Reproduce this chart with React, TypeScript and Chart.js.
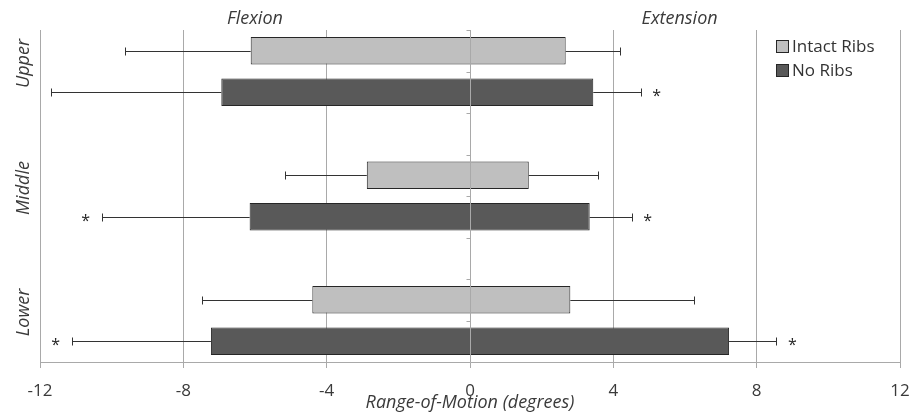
import React, { useEffect, useRef } from 'react';
import { Chart, registerables } from 'chart.js';

Chart.register(...registerables);

// ---------- data ----------
const regions = ['Upper', 'Middle', 'Lower'];
const seriesNames = ['Intact Ribs', 'No Ribs'];

// bar extents (degrees): flexion (negative) to extension (positive)
const intactLow = [-6.12, -2.88, -4.4];
const intactHigh = [2.67, 1.64, 2.8];
const intactErrLow = [-9.63, -5.16, -7.49];
const intactErrHigh = [4.2, 3.58, 6.25];

const noRibsLow = [-6.94, -6.15, -7.23];
const noRibsHigh = [3.44, 3.34, 7.23];
const noRibsErrLow = [-11.69, -10.28, -11.12];
const noRibsErrHigh = [4.76, 4.51, 8.55];

// significance markers (*) for No Ribs
const noRibsSigLow = [false, true, true];
const noRibsSigHigh = [true, true, true];

const xTicks = [-12, -8, -4, 0, 4, 8, 12];
const directionLabels = ['Flexion', 'Extension'];
const directionValues = [-6, 5.85];

const axisTitle = 'Range-of-Motion (degrees)';

// ---------- colours ----------
const intactColor = '#bfbfbf';
const noRibsColor = '#595959';
const barBorder = '#262626';
const gridColor = '#a9a9a9';
const textColor = '#3a3a3a';
const FONT = "'Open Sans', sans-serif";

// slots: Intact, No Ribs, (gap) for each region
const slotLabels: string[] = [];
const intactSlot: number[] = [];
const noRibsSlot: number[] = [];
regions.forEach((r, i) => {
  intactSlot.push(slotLabels.length);
  slotLabels.push(r + ' – ' + seriesNames[0]);
  noRibsSlot.push(slotLabels.length);
  slotLabels.push(r + ' – ' + seriesNames[1]);
  if (i < regions.length - 1) slotLabels.push('');
});

const intactData = slotLabels.map((_, s) => {
  const i = intactSlot.indexOf(s);
  return i >= 0 ? [intactLow[i], intactHigh[i]] : null;
});
const noRibsData = slotLabels.map((_, s) => {
  const i = noRibsSlot.indexOf(s);
  return i >= 0 ? [noRibsLow[i], noRibsHigh[i]] : null;
});

const overlayPlugin = {
  id: 'overlay',
  afterDatasetsDraw(chart: any) {
    const { ctx, chartArea, scales } = chart;
    const x = scales.x;
    const y = scales.y;
    ctx.save();

    // zero (category) axis line with small ticks, on top of bars
    const x0 = Math.round(x.getPixelForValue(0)) + 0.5;
    ctx.strokeStyle = gridColor;
    ctx.lineWidth = 1;
    ctx.beginPath();
    ctx.moveTo(x0, chartArea.top);
    ctx.lineTo(x0, chartArea.bottom);
    for (let k = 0; k <= slotLabels.length; k++) {
      const yb = Math.round(y.getPixelForValue(k - 0.5)) + 0.5;
      ctx.moveTo(x0 - 4, yb);
      ctx.lineTo(x0, yb);
    }
    ctx.stroke();

    // error bars
    ctx.strokeStyle = '#333333';
    ctx.lineWidth = 1;
    const drawErr = (slot: number, from: number, to: number) => {
      const yc = Math.round(y.getPixelForValue(slot)) + 0.5;
      const xa = x.getPixelForValue(from);
      const xb = Math.round(x.getPixelForValue(to)) + 0.5;
      ctx.beginPath();
      ctx.moveTo(xa, yc);
      ctx.lineTo(xb, yc);
      ctx.moveTo(xb, yc - 4);
      ctx.lineTo(xb, yc + 4);
      ctx.stroke();
    };
    regions.forEach((_, i) => {
      drawErr(intactSlot[i], intactLow[i], intactErrLow[i]);
      drawErr(intactSlot[i], intactHigh[i], intactErrHigh[i]);
      drawErr(noRibsSlot[i], noRibsLow[i], noRibsErrLow[i]);
      drawErr(noRibsSlot[i], noRibsHigh[i], noRibsErrHigh[i]);
    });

    // significance asterisks
    ctx.fillStyle = '#262626';
    ctx.font = `16px ${FONT}`;
    ctx.textAlign = 'center';
    ctx.textBaseline = 'alphabetic';
    regions.forEach((_, i) => {
      const yc = y.getPixelForValue(noRibsSlot[i]);
      if (noRibsSigLow[i]) ctx.fillText('*', x.getPixelForValue(noRibsErrLow[i]) - 16, yc + 9);
      if (noRibsSigHigh[i]) ctx.fillText('*', x.getPixelForValue(noRibsErrHigh[i]) + 16, yc + 9);
    });
    ctx.restore();
  },
  afterDraw(chart: any) {
    const { ctx, chartArea, scales } = chart;
    const x = scales.x;
    const y = scales.y;
    ctx.save();

    // Flexion / Extension
    ctx.fillStyle = textColor;
    ctx.font = `italic 18px ${FONT}`;
    ctx.textAlign = 'center';
    ctx.textBaseline = 'middle';
    directionLabels.forEach((t, i) => {
      ctx.fillText(t, x.getPixelForValue(directionValues[i]), chartArea.top - 11);
    });

    // region labels, rotated
    regions.forEach((r, i) => {
      const yb = (y.getPixelForValue(intactSlot[i]) + y.getPixelForValue(noRibsSlot[i])) / 2 - 8;
      ctx.save();
      ctx.translate(chartArea.left - 16, yb);
      ctx.rotate(-Math.PI / 2);
      ctx.fillText(r, 0, 0);
      ctx.restore();
    });

    // legend inside chart area (top right)
    const lx = chartArea.right - 124;
    const ly = chartArea.top + 16;
    const colors = [intactColor, noRibsColor];
    ctx.font = `17px ${FONT}`;
    ctx.textAlign = 'left';
    ctx.textBaseline = 'middle';
    seriesNames.forEach((name, i) => {
      const cy = ly + i * 24;
      ctx.fillStyle = colors[i];
      ctx.fillRect(lx, cy - 6, 12, 12);
      ctx.strokeStyle = barBorder;
      ctx.lineWidth = 1;
      ctx.strokeRect(lx + 0.5, cy - 5.5, 12, 12);
      ctx.fillStyle = '#333333';
      ctx.fillText(name, lx + 16, cy + 1);
    });
    ctx.restore();
  },
};

export default function App() {
  const canvasRef = useRef<HTMLCanvasElement | null>(null);

  useEffect(() => {
    if (!canvasRef.current) return;
    Chart.defaults.font.family = FONT;
    const chart = new Chart(canvasRef.current, {
      type: 'bar',
      data: {
        labels: slotLabels,
        datasets: [
          {
            label: seriesNames[0],
            data: intactData as any,
            backgroundColor: intactColor,
            borderColor: barBorder,
            borderWidth: 1,
            borderSkipped: false,
            grouped: false,
            categoryPercentage: 1,
            barPercentage: 0.66,
          },
          {
            label: seriesNames[1],
            data: noRibsData as any,
            backgroundColor: noRibsColor,
            borderColor: barBorder,
            borderWidth: 1,
            borderSkipped: false,
            grouped: false,
            categoryPercentage: 1,
            barPercentage: 0.66,
          },
        ],
      },
      options: {
        indexAxis: 'y',
        responsive: false,
        animation: false,
        devicePixelRatio: 1,
        layout: { padding: { top: 30, right: 15, left: 0, bottom: 0 } },
        plugins: {
          legend: { display: false },
          tooltip: { enabled: false },
        },
        scales: {
          x: {
            type: 'linear',
            min: -12,
            max: 12,
            afterBuildTicks: (scale: any) => {
              scale.ticks = xTicks.map((v) => ({ value: v }));
            },
            afterFit: (scale: any) => {
              scale.height = 58;
              scale.paddingLeft = 0;
              scale.paddingRight = 0;
            },
            grid: {
              color: gridColor,
              lineWidth: 1,
              tickLength: 6,
              drawTicks: true,
            },
            border: { display: true, color: gridColor, width: 1 },
            ticks: {
              color: textColor,
              font: { size: 17, family: FONT },
              padding: 13,
              maxRotation: 0,
            },
            title: {
              display: true,
              text: axisTitle,
              color: textColor,
              font: { size: 18, style: 'italic', family: FONT },
              padding: { top: 0, bottom: 6 },
            },
          },
          y: {
            type: 'category',
            afterFit: (scale: any) => {
              scale.width = 40;
            },
            grid: { display: false },
            border: { display: false },
            ticks: { display: false },
          },
        },
      },
      plugins: [overlayPlugin],
    } as any);
    return () => chart.destroy();
  }, []);

  return (
    <div style={{ position: 'fixed', left: 0, top: 0, width: 915, height: 420, background: '#fff' }}>
      <canvas ref={canvasRef} width={915} height={420} style={{ width: 915, height: 420 }} />
    </div>
  );
}
